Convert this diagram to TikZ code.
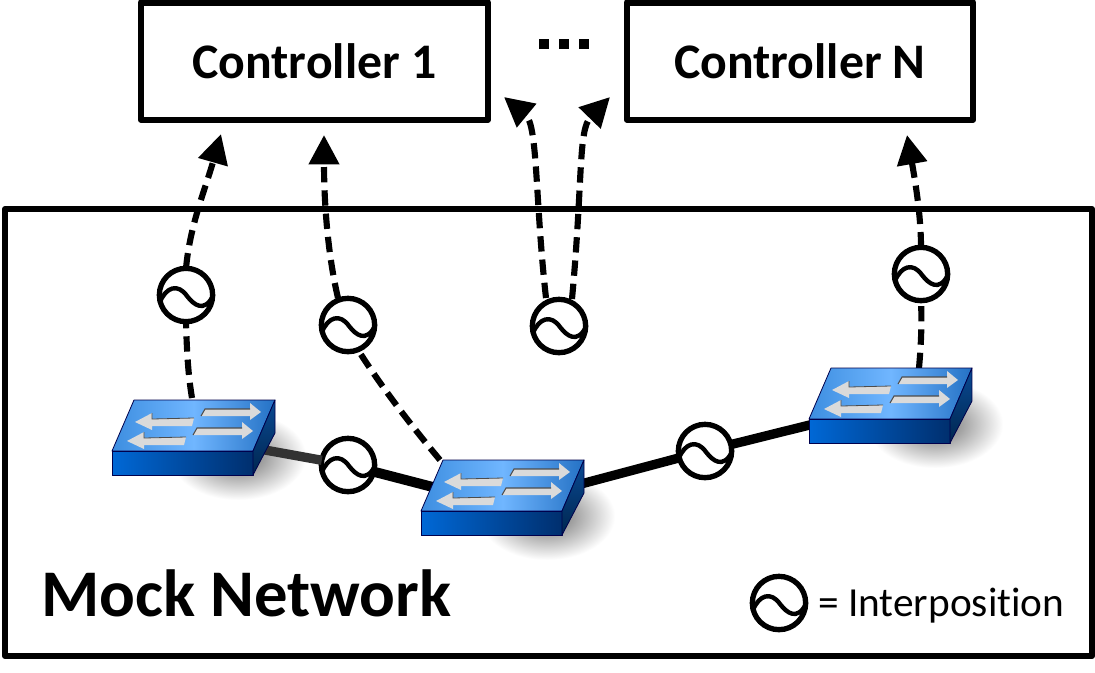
\documentclass[tikz,border=0pt]{standalone}
\usepackage{fontspec}
\setmainfont{Carlito}[Ligatures=NoCommon]
\usetikzlibrary{arrows.meta,calc}
\definecolor{topL}{HTML}{3D8EE0}
\definecolor{topM}{HTML}{70B6FF}
\definecolor{topR}{HTML}{2471C4}
\definecolor{frontL}{HTML}{0068D6}
\definecolor{frontR}{HTML}{002F6E}
\definecolor{sideT}{HTML}{0A4A94}
\definecolor{sideB}{HTML}{00264F}
\definecolor{arrowgrey}{HTML}{DADADA}
\tikzset{
  x=0.75pt,y=-0.75pt,
  box/.style={draw=black,line width=4.6pt,line join=round,fill=white,font=\fontsize{37.3}{40}\selectfont\bfseries,inner sep=0pt,outer sep=0pt,anchor=north west},
  frameb/.style={draw=black,line width=4.6pt,line join=round},
  interp/.style={circle,draw=black,line width=4pt,fill=white,minimum size=40pt,inner sep=0pt,outer sep=0pt},
  plainctrl/.style={line width=4.6pt,dash pattern=on 11.5pt off 6pt},
  ctrl/.style={plainctrl,-{Stealth[length=22pt,width=22pt,inset=0pt]}},
  link/.style={line width=7pt,black},
  swanchor/.style={inner sep=0pt,minimum width=100pt,minimum height=50pt},
  swedge/.style={draw=black!70!blue,line width=0.6pt,line join=round}
}
\newcommand{\sinewave}[1]{%
  \draw[line width=3.3pt,line cap=round] ($(#1.center)+(-26,7)$) .. controls ($(#1.center)+(-20,-8)$) and ($(#1.center)+(-8,-12)$) .. ($(#1.center)+(1,1)$) .. controls ($(#1.center)+(8,10)$) and ($(#1.center)+(18,18)$) .. ($(#1.center)+(27,1)$);}
\newcommand{\greyarrowR}[2]{%
  \begin{scope}[shift={(#1,#2)}]
  \fill[arrowgrey] (-4,7) -- (0,0) -- (45,0) -- (45,-6) -- (56,3) -- (45,11) -- (45,7) -- cycle;
  \draw[black!70,line width=0.8pt] (-4,7) -- (0,0) -- (45,0);
  \end{scope}}
\newcommand{\greyarrowL}[2]{%
  \begin{scope}[shift={(#1,#2)}]
  \fill[arrowgrey] (0,0) -- (-42,1) -- (-42,-5) -- (-59,4) -- (-42,12) -- (-42,8) -- (-2,8) -- cycle;
  \draw[black!70,line width=0.6pt] (0,0) -- (-42,1) -- (-42,-5);
  \end{scope}}
\newcommand{\switchshadow}[2]{%
  \begin{scope}[shift={(#1,#2)}]
    \shade[inner color=black!60,outer color=white] (126,5) ellipse [x radius=68,y radius=44];
  \end{scope}}
\newcommand{\switchicon}[2]{%
  \begin{scope}[shift={(#1,#2)}]
    % origin = front left top corner
    \shade[left color=topL,right color=topR,middle color=topM,swedge] (22,-51) -- (163,-51) -- (141,0) -- (0,0) -- cycle;
    \shade[left color=frontL,right color=frontR,swedge] (0,0) rectangle (141,24);
    \shade[top color=sideT,bottom color=sideB,swedge] (141,0) -- (163,-51) -- (163,-18) -- (141,24) -- cycle;
    \greyarrowR{93}{-42}
    \greyarrowR{85}{-23}
    \greyarrowL{82}{-33}
    \greyarrowL{74}{-14}
  \end{scope}}
\begin{document}
\begin{tikzpicture}
\useasboundingbox (0,0) rectangle (1095,672);
\fill[white] (0,0) rectangle (1095,672);
% frames
\draw[frameb] (5,209) rectangle (1092,656);
\node[box,minimum width=260pt,minimum height=88pt] (c1) at (141,2.5) {Controller 1};
\node[box,minimum width=259.5pt,minimum height=88pt] (cn) at (627,2.5) {Controller N};
% dots
\fill (539,39) rectangle (549,49);
\fill (559,39) rectangle (569,49);
\fill (579,39) rectangle (589,49);
% anchors
\node[swanchor] (s1) at (193,437) {};
\node[swanchor] (s2) at (502,505) {};
\node[swanchor] (s3) at (890,405) {};
\coordinate (f1) at (221,134);
\coordinate (f2) at (324,135);
\coordinate (f3) at (504,97);
\coordinate (f4) at (610,97);
\coordinate (f5) at (907,135);
\coordinate (e1) at (192,398);
\coordinate (e2) at (440,460);
\coordinate (e3) at (919,368);
\coordinate (a2) at (338,298);
\coordinate (a3) at (546,298);
\coordinate (a4) at (572,299);
\coordinate (a5) at (360,353);
% shadows
\switchshadow{112}{451}
\switchshadow{421}{511}
\switchshadow{809}{419}
% interposition nodes
\node[interp] (i1) at (186,295) {};
\node[interp] (i2) at (348,325) {};
\node[interp] (i3) at (559,326) {};
\node[interp] (i4) at (921,274) {};
\node[interp] (i5) at (348,465) {};
\node[interp] (i6) at (705,451) {};
\node[interp] (leg) at (779,603) {};
% links
\draw[link,black!80] (s1.center) -- (i5);
\draw[link,line width=7.5pt] (i5) -- (s2.center);
\draw[link] (s2.center) -- (i6);
\draw[link] (i6) -- (s3.center);
% dashed control links
\draw[plainctrl] (e1) .. controls (189,380) and (187,360) .. (i1.south);
\draw[ctrl] (i1.north) .. controls (190,225) and (205,190) .. (f1);
\draw[plainctrl] (e2) .. controls (415,430) and (385,392) .. (a5);
\draw[ctrl] (a2) .. controls (329,260) and (324,210) .. (f2);
\draw[ctrl] (a3) .. controls (535,200) and (538,125) .. (f3);
\draw[ctrl] (a4) .. controls (583,180) and (578,130) .. (f4);
\draw[plainctrl] (e3) .. controls (921,345) and (922,325) .. (i4.south);
\draw[ctrl] (i4.north) .. controls (921,215) and (915,180) .. (f5);
% switches
\switchicon{112}{451}
\switchicon{421}{511}
\switchicon{809}{419}
% sine
\foreach \n in {i1,i2,i3,i4,i5,i6,leg}{\sinewave{\n}}
% text
\node[anchor=west,inner xsep=0pt,font=\fontsize{50}{54}\selectfont\bfseries] (mock) at (41,593) {Mock Network};
\node[anchor=west,inner xsep=0pt,font=\fontsize{31}{34}\selectfont] (eq) at (818,606) {= Interposition};
\end{tikzpicture}
\end{document}
